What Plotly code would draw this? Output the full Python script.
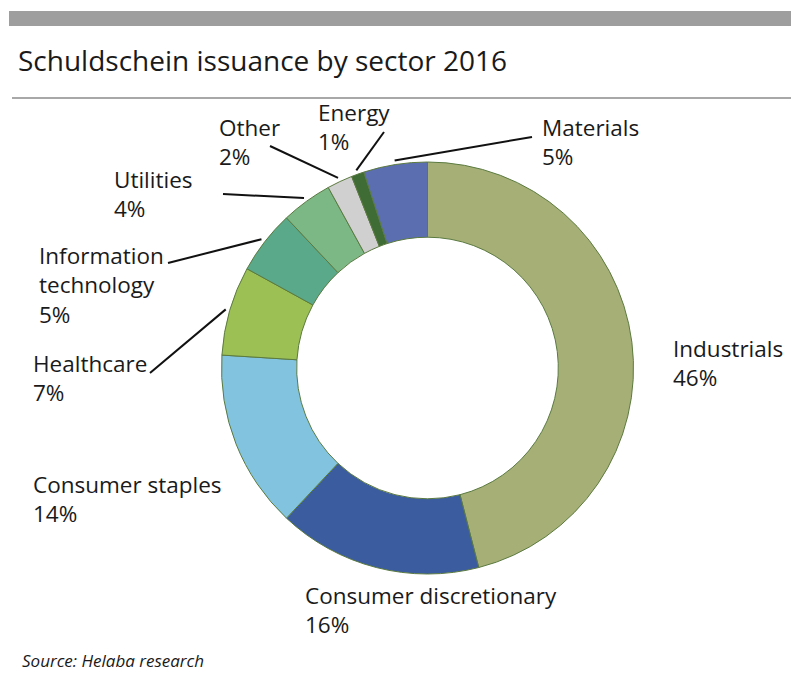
import math
import plotly.graph_objects as go

# ---- data ----
sectors = ["Industrials", "Consumer discretionary", "Consumer staples", "Healthcare",
           "Information technology", "Utilities", "Other", "Energy", "Materials"]
shares = [46, 16, 14, 7, 5, 4, 2, 1, 5]
label_text = ["Industrials", "Consumer discretionary", "Consumer staples", "Healthcare",
              "Information<br>technology", "Utilities", "Other", "Energy", "Materials"]
colors = ["#a6b076", "#3c5ca0", "#82c4df", "#9dc055", "#5aa98a", "#7cb886",
          "#d0d0d0", "#3f6b35", "#5b6eb0"]

W, H = 800, 681
CX, CY, R = 427.5, 368.0, 206.0
HOLE = 0.635
FONT = "'Open Sans', Lato, sans-serif"
TXT = "#1a1a1a"

# label placement (pixel, left edge / first line centre) and leader end points
label_pos = {
    "Industrials": (671, 349),
    "Consumer discretionary": (303, 596),
    "Consumer staples": (31, 485),
    "Healthcare": (31, 364),
    "Information technology": (37, 256),
    "Utilities": (112, 180),
    "Other": (217, 128),
    "Energy": (316, 113),
    "Materials": (540, 128),
}
leader_end = {
    "Materials": (532, 137),
    "Energy": (384, 132),
    "Other": (270, 146),
    "Utilities": (223, 194),
    "Information technology": (168, 263),
    "Healthcare": (150, 373),
}

def px(x):
    return x / W

def py(y):
    return 1 - y / H

fig = go.Figure()
fig.add_trace(go.Pie(
    labels=sectors, values=shares, sort=False, direction="clockwise", rotation=0,
    hole=HOLE, textinfo="none", hoverinfo="label+percent",
    marker=dict(colors=colors, line=dict(color="#5b7a40", width=1)),
    domain=dict(x=[px(CX - R), px(CX + R)], y=[py(CY + R), py(CY - R)]),
    showlegend=False,
))

annotations = []
shapes = []
total = sum(shares)
cum = 0
for name, v, txt in zip(sectors, shares, label_text):
    mid = (cum + v / 2) / total
    cum += v
    ang = 2 * math.pi * mid
    lx, ly = label_pos[name]
    annotations.append(dict(
        x=px(lx), y=py(ly - 18), xref="paper", yref="paper",
        xanchor="left", yanchor="top", align="left", showarrow=False,
        text=f"{txt}<br>{v}%", font=dict(family=FONT, size=22.5, color=TXT),
    ))
    if name in leader_end:
        sx = CX + R * 1.02 * math.sin(ang)
        sy = CY - R * 1.02 * math.cos(ang)
        ex, ey = leader_end[name]
        shapes.append(dict(type="line", xref="paper", yref="paper",
                           x0=px(sx), y0=py(sy), x1=px(ex), y1=py(ey),
                           line=dict(color="#111111", width=2)))

# title, source
annotations.append(dict(x=px(16), y=py(60), xref="paper", yref="paper",
                        xanchor="left", yanchor="middle", showarrow=False,
                        text="Schuldschein issuance by sector 2016",
                        font=dict(family=FONT, size=28, color=TXT)))
annotations.append(dict(x=px(20), y=py(660), xref="paper", yref="paper",
                        xanchor="left", yanchor="middle", showarrow=False,
                        text="<i>Source: Helaba research</i>",
                        font=dict(family=FONT, size=17, color=TXT)))

# top bar and separator
shapes.append(dict(type="rect", xref="paper", yref="paper",
                   x0=px(9), x1=px(791), y0=py(26), y1=py(11),
                   fillcolor="#9e9e9e", line=dict(width=0)))
shapes.append(dict(type="line", xref="paper", yref="paper",
                   x0=px(12), x1=px(791), y0=py(98), y1=py(98),
                   line=dict(color="#a8a8a8", width=2)))

fig.update_layout(
    width=W, height=H, margin=dict(l=0, r=0, t=0, b=0),
    paper_bgcolor="white", plot_bgcolor="white",
    annotations=annotations, shapes=shapes,
)
fig.write_html("out.html")
